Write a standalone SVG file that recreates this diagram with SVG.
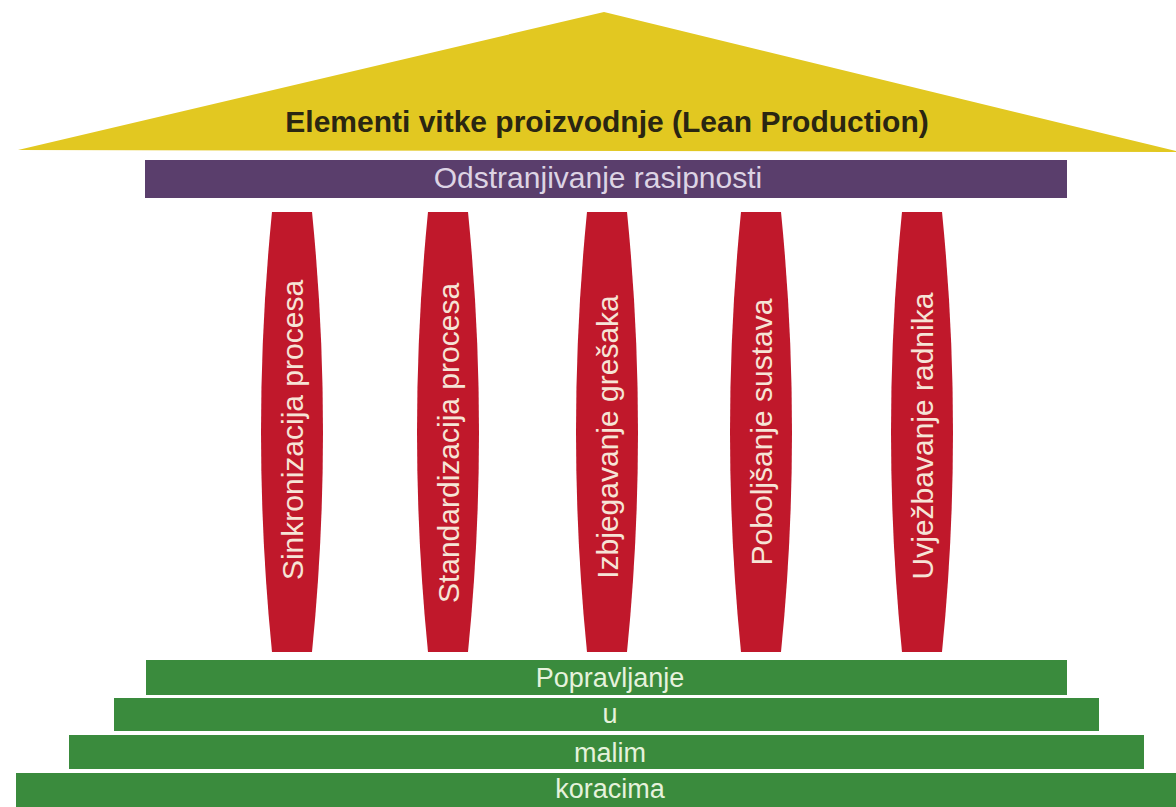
<svg xmlns="http://www.w3.org/2000/svg" width="1176" height="807" viewBox="0 0 1176 807">
<style>
.pillar{fill:#c0182b;}
.ptext{font-family:"Liberation Sans",Arial,sans-serif;font-size:30px;fill:#f6e4d6;text-anchor:middle;}
.step{fill:#3a8b3d;}
.stext{font-family:"Liberation Sans",Arial,sans-serif;font-size:27px;fill:#e6f2dc;text-anchor:middle;}
</style>
<rect width="1176" height="807" fill="#ffffff"/>
<g id="roof">
<polygon points="604,12 18,150 1180,152" fill="#e2c821"/>
<text x="607" y="132" font-family="Liberation Sans,Arial,sans-serif" font-weight="bold" font-size="30" fill="#2a2612" text-anchor="middle">Elementi vitke proizvodnje (Lean Production)</text>
</g>
<g id="beam">
<rect x="145" y="160" width="922" height="38" fill="#5a3e6c"/>
<text x="598" y="188" font-family="Liberation Sans,Arial,sans-serif" font-size="30" fill="#ddd4e4" text-anchor="middle">Odstranjivanje rasipnosti</text>
</g>
<g id="pillar1">
<path class="pillar" d="M272,212 Q250,432 272,652 L312,652 Q334,432 312,212 Z"/>
<text class="ptext" transform="translate(303,430) rotate(-90)">Sinkronizacija procesa</text>
</g>
<g id="pillar2">
<path class="pillar" d="M428,212 Q406,432 428,652 L468,652 Q490,432 468,212 Z"/>
<text class="ptext" transform="translate(459,443) rotate(-90)">Standardizacija procesa</text>
</g>
<g id="pillar3">
<path class="pillar" d="M587,212 Q565,432 587,652 L627,652 Q649,432 627,212 Z"/>
<text class="ptext" transform="translate(618,437) rotate(-90)">Izbjegavanje grešaka</text>
</g>
<g id="pillar4">
<path class="pillar" d="M741,212 Q719,432 741,652 L781,652 Q803,432 781,212 Z"/>
<text class="ptext" transform="translate(772,432) rotate(-90)">Poboljšanje sustava</text>
</g>
<g id="pillar5">
<path class="pillar" d="M902,212 Q880,432 902,652 L942,652 Q964,432 942,212 Z"/>
<text class="ptext" transform="translate(933,436) rotate(-90)">Uvježbavanje radnika</text>
</g>
<g id="step1">
<rect class="step" x="146" y="660" width="921" height="35"/>
<text class="stext" x="610" y="687">Popravljanje</text>
</g>
<g id="step2">
<rect class="step" x="114" y="698" width="985" height="33"/>
<text class="stext" x="610" y="723">u</text>
</g>
<g id="step3">
<rect class="step" x="69" y="735" width="1075" height="34"/>
<text class="stext" x="610" y="762">malim</text>
</g>
<g id="step4">
<rect class="step" x="16" y="773" width="1160" height="34"/>
<text class="stext" x="610" y="798">koracima</text>
</g>
<g id="connectors"></g>
</svg>
